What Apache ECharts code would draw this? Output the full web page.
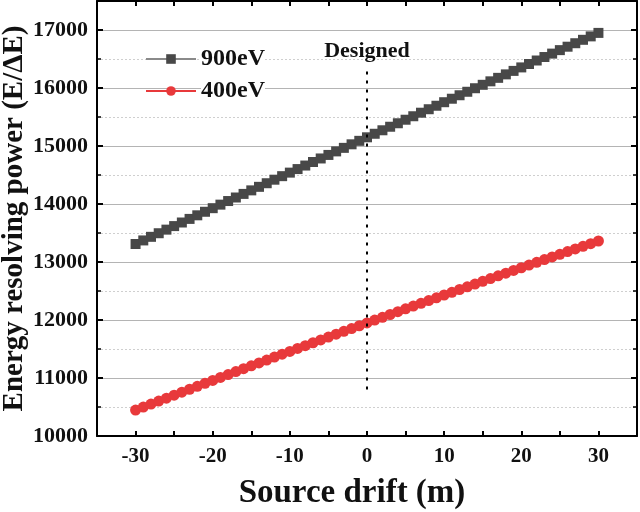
<!DOCTYPE html>
<html>
<head>
<meta charset="utf-8">
<script src="https://cdn.jsdelivr.net/npm/echarts@6/dist/echarts.min.js"></script>
<style>
  html, body { margin: 0; padding: 0; background: #fff; }
  #chart { width: 640px; height: 512px; }
</style>
</head>
<body>
<div id="chart"></div>
<script>
// source drift (m)
const drift = [-30, -29, -28, -27, -26, -25, -24, -23, -22, -21, -20, -19, -18, -17, -16, -15, -14, -13, -12, -11,
  -10, -9, -8, -7, -6, -5, -4, -3, -2, -1, 0, 1, 2, 3, 4, 5, 6, 7, 8, 9,
  10, 11, 12, 13, 14, 15, 16, 17, 18, 19, 20, 21, 22, 23, 24, 25, 26, 27, 28, 29, 30];

// resolving power, 900 eV
const rp900 = [13310, 13372, 13434, 13496, 13558, 13619, 13681, 13743, 13805, 13866, 13928, 13989, 14051, 14112, 14174, 14235, 14296, 14358, 14419, 14480,
  14541, 14602, 14663, 14724, 14785, 14846, 14907, 14968, 15029, 15089, 15150, 15211, 15271, 15332, 15392, 15453, 15513, 15574, 15634, 15694,
  15755, 15815, 15875, 15935, 15996, 16055, 16115, 16175, 16235, 16295, 16355, 16414, 16474, 16534, 16593, 16653, 16712, 16772, 16831, 16890, 16950];

// resolving power, 400 eV
const rp400 = [10448, 10499, 10551, 10602, 10653, 10704, 10755, 10806, 10857, 10908, 10959, 11009, 11060, 11110, 11160, 11210, 11260, 11310, 11360, 11410,
  11459, 11509, 11558, 11608, 11657, 11706, 11755, 11804, 11853, 11901, 11950, 11998, 12047, 12095, 12144, 12192, 12240, 12288, 12335, 12383,
  12431, 12478, 12526, 12573, 12620, 12667, 12714, 12761, 12808, 12855, 12901, 12948, 12994, 13041, 13087, 13133, 13179, 13225, 13271, 13316, 13362];

// tick labels
const xLabels = [-30, -20, -10, 0, 10, 20, 30];
const yLabels = [10000, 11000, 12000, 13000, 14000, 15000, 16000, 17000];

// "Designed" marker line at drift = 0
const designedX = 0;
const designedRange = [10800, 16300];

const serif = "'Liberation Serif', 'DejaVu Serif', serif";

const chart = echarts.init(document.getElementById("chart"));

const xBase = {
  type: "value", min: -35, max: 35, interval: 5,
  axisLine: { show: true, onZero: false, lineStyle: { color: "#000", width: 2 } },
  axisTick: { show: true, inside: true, length: 5, lineStyle: { color: "#000", width: 2 } },
  splitLine: { show: false },
};
const yBase = {
  type: "value", min: 10000, max: 17500, interval: 1000,
  axisLine: { show: true, onZero: false, lineStyle: { color: "#000", width: 2 } },
  axisTick: { show: true, inside: true, length: 6, lineStyle: { color: "#000", width: 2 } },
  minorTick: { show: true, splitNumber: 2, length: 4, lineStyle: { color: "#000", width: 1.5 } },
};

const option = {
  backgroundColor: "#fff",
  animation: false,
  grid: { left: 97, right: 3, top: 1, bottom: 76, containLabel: false, outerBoundsMode: "none" },
  legend: {
    left: 140, top: 42, orient: "vertical",
    itemWidth: 50, itemHeight: 12, itemGap: 8,
    textStyle: { fontFamily: serif, fontWeight: "bold", fontSize: 24, color: "#111", backgroundColor: "#fff" },
    data: ["900eV", "400eV"],
  },
  xAxis: [
    Object.assign({}, xBase, {
      position: "bottom",
      name: "Source drift (m)", nameLocation: "middle", nameGap: 41, nameMoveOverlap: false,
      nameTextStyle: { fontFamily: serif, fontWeight: "bold", fontSize: 33, color: "#111", padding: [0, 30, 0, 0] },
      axisLabel: { fontFamily: serif, fontWeight: "bold", fontSize: 21, color: "#111", margin: 10,
        formatter: (v) => (xLabels.includes(v) ? String(v) : "") },
    }),
    Object.assign({}, xBase, { position: "top", axisLabel: { show: false } }),
  ],
  yAxis: [
    Object.assign({}, yBase, {
      position: "left",
      name: "Energy resolving power (E/ΔE)", nameLocation: "middle", nameGap: 68, nameMoveOverlap: false,
      nameTextStyle: { fontFamily: serif, fontWeight: "bold", fontSize: 29, color: "#111" },
      axisLabel: { fontFamily: serif, fontWeight: "bold", fontSize: 22, color: "#111", margin: 9,
        formatter: (v) => (yLabels.includes(v) ? String(v) : "") },
      splitLine: { show: true, lineStyle: { color: "#b4b4b4", width: 1 } },
      minorSplitLine: { show: true, lineStyle: { color: "#cfcfcf", width: 1, type: [2, 2] } },
    }),
    Object.assign({}, yBase, { position: "right", axisLabel: { show: false }, splitLine: { show: false } }),
  ],
  series: [
    {
      name: "900eV", type: "line",
      data: drift.map((d, i) => [d, rp900[i]]),
      symbol: "rect", symbolSize: 10,
      itemStyle: { color: "#484848" },
      lineStyle: { color: "#8a8a8a", width: 1.2 },
      z: 3,
      markLine: {
        silent: true, symbol: "none",
        lineStyle: { color: "#000", width: 2, type: [3, 6] },
        label: { show: true, position: "end", formatter: "Designed", distance: 8,
          fontFamily: serif, fontWeight: "bold", fontSize: 22, color: "#111" },
        data: [[{ coord: [designedX, designedRange[0]] }, { coord: [designedX, designedRange[1]] }]],
      },
    },
    {
      name: "400eV", type: "line",
      data: drift.map((d, i) => [d, rp400[i]]),
      symbol: "circle", symbolSize: 11,
      itemStyle: { color: "#e8393b" },
      lineStyle: { color: "#e8393b", width: 1 },
      z: 3,
    },
  ],
};

chart.setOption(option);
window.addEventListener("resize", () => chart.resize());
</script>
</body>
</html>
